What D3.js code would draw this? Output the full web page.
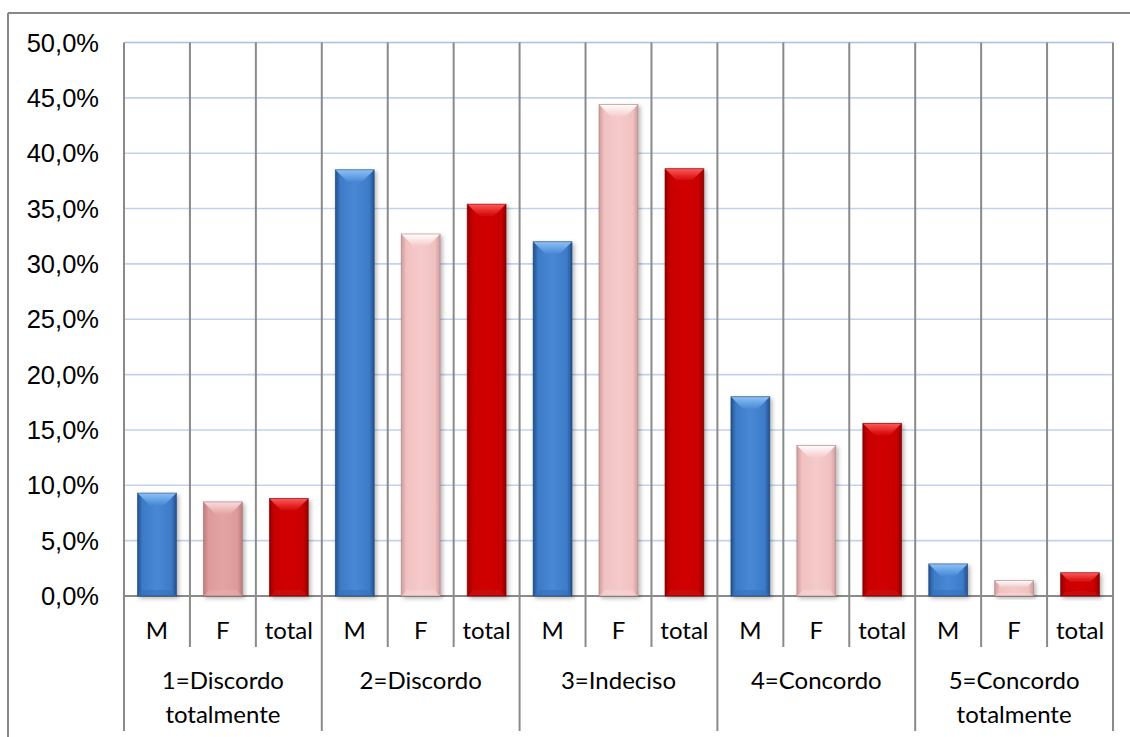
<!DOCTYPE html>
<html>
<head>
<meta charset="utf-8">
<script src="https://cdn.jsdelivr.net/npm/d3@7"></script>
<style>
  html, body { margin: 0; padding: 0; background: #fff; }
  svg { display: block; }
</style>
</head>
<body>
<svg id="chart" width="1130" height="737"></svg>
<script>
// Response categories (each label split over its display lines)
const groupLabels = [
  ["1=Discordo", "totalmente"],
  ["2=Discordo"],
  ["3=Indeciso"],
  ["4=Concordo"],
  ["5=Concordo", "totalmente"]
];
const seriesNames = ["M", "F", "total"];

// Percentages per category
const valuesM     = [9.3, 38.5, 32.0, 18.0, 2.9];
const valuesF     = [8.5, 32.7, 44.4, 13.6, 1.4];
const valuesTotal = [8.8, 35.4, 38.6, 15.6, 2.1];

// Y-axis ticks (percent)
const yTicks = [0, 5, 10, 15, 20, 25, 30, 35, 40, 45, 50];

const seriesValues = [valuesM, valuesF, valuesTotal];

// Fill palettes: base, edge (dark), top bevel (light)
const palettes = {
  M:     { base: "#3d7bc7", mid: "#4888d5", edge: "#23508d", top: "#8cc2f6", bottom: "#3672bb", stroke: "#1d4273" },
  F:     { base: "#f1c1c1", mid: "#f5caca", edge: "#cd9c9c", top: "#ffffff", bottom: "#f6d6d6", stroke: "#a88080" },
  Fdark: { base: "#dd9a9a", mid: "#e3a4a4", edge: "#bd7d7d", top: "#fbdcdc", bottom: "#e4adad", stroke: "#9c6c6c" },
  total: { base: "#c80000", mid: "#d10303", edge: "#900000", top: "#ff5a5a", bottom: "#c50e0e", stroke: "#7a0000" }
};
function paletteKey(series, gi) {
  if (series === "F" && gi === 0) return "Fdark";
  return series;
}

const svg = d3.select("#chart");
const W = 1130, H = 737;
const plot = { left: 124, right: 1113, top: 42.5, bottom: 596 };
const catRow = 647, axisBottom = 731;

// Flatten into one slot per bar
const slots = [];
groupLabels.forEach((g, gi) => {
  seriesNames.forEach((s, si) => {
    slots.push({ key: gi + "-" + s, group: gi, series: s, value: seriesValues[si][gi] });
  });
});

const x = d3.scaleBand().domain(slots.map(d => d.key)).range([plot.left, plot.right]).padding(0);
const y = d3.scaleLinear().domain([0, 50]).range([plot.bottom, plot.top]);

const locale = d3.formatLocale({ decimal: ",", thousands: ".", grouping: [3], currency: ["", ""] });
const fmt = v => locale.format(".1f")(v) + "%";

const defs = svg.append("defs");
Object.entries(palettes).forEach(([k, p]) => {
  const g = defs.append("linearGradient").attr("id", "body-" + k)
    .attr("x1", "0").attr("x2", "1").attr("y1", "0").attr("y2", "0");
  g.append("stop").attr("offset", "0").attr("stop-color", p.edge);
  g.append("stop").attr("offset", "0.13").attr("stop-color", p.base);
  g.append("stop").attr("offset", "0.5").attr("stop-color", p.mid);
  g.append("stop").attr("offset", "0.87").attr("stop-color", p.base);
  g.append("stop").attr("offset", "1").attr("stop-color", p.edge);
  const t = defs.append("linearGradient").attr("id", "top-" + k)
    .attr("x1", "0").attr("x2", "0").attr("y1", "0").attr("y2", "1");
  t.append("stop").attr("offset", "0").attr("stop-color", p.top);
  t.append("stop").attr("offset", "1").attr("stop-color", p.mid);
});
const shadow = defs.append("filter").attr("id", "shadow")
  .attr("x", "-20%").attr("y", "-20%").attr("width", "150%").attr("height", "140%");
shadow.append("feDropShadow").attr("dx", 2).attr("dy", 2).attr("stdDeviation", 2)
  .attr("flood-color", "#000").attr("flood-opacity", 0.3);

// Outer chart border (top and left edges visible)
svg.append("line").attr("x1", 8).attr("x2", W).attr("y1", 13).attr("y2", 13)
  .attr("stroke", "#888").attr("stroke-width", 2);
svg.append("line").attr("x1", 8).attr("x2", 8).attr("y1", 13).attr("y2", H)
  .attr("stroke", "#888").attr("stroke-width", 2);

// Horizontal gridlines
svg.append("g").selectAll("line").data(yTicks.filter(t => t > 0)).join("line")
  .attr("x1", plot.left).attr("x2", plot.right)
  .attr("y1", d => y(d)).attr("y2", d => y(d))
  .attr("stroke", d => d === 50 ? "#a9bde5" : "#c3d1ee")
  .attr("stroke-width", 1.6);

// Vertical separators: slot boundaries and group boundaries
const boundaries = d3.range(slots.length + 1).map(i => ({
  x: i < slots.length ? x(slots[i].key) : plot.right,
  group: i % seriesNames.length === 0
}));
svg.append("g").selectAll("line").data(boundaries).join("line")
  .attr("x1", d => d.x).attr("x2", d => d.x)
  .attr("y1", plot.top).attr("y2", d => d.group ? axisBottom : catRow)
  .attr("stroke", "#8a8a8a").attr("stroke-width", 2);

// Baseline
svg.append("line").attr("x1", plot.left).attr("x2", plot.right)
  .attr("y1", y(0)).attr("y2", y(0))
  .attr("stroke", "#8a8a8a").attr("stroke-width", 2);

// Y-axis labels
svg.append("g").selectAll("text").data(yTicks).join("text")
  .attr("x", 99).attr("y", d => y(d) + 9)
  .attr("text-anchor", "end")
  .attr("font-family", "'Liberation Sans', Arial, sans-serif")
  .attr("font-size", 25.5).attr("fill", "#000")
  .text(d => fmt(d));

// Bars with bevelled tops
const barFrac = 0.59;
const bw = x.bandwidth() * barFrac;
const bars = svg.append("g").selectAll("g").data(slots).join("g")
  .attr("filter", "url(#shadow)");
bars.each(function(d) {
  const g = d3.select(this);
  const k = paletteKey(d.series, d.group);
  const p = palettes[k];
  const x0 = x(d.key) + (x.bandwidth() - bw) / 2;
  const x1 = x0 + bw;
  const y0 = y(d.value), y1 = y(0);
  const h = y1 - y0;
  const b = Math.min(12, h * 0.42);
  const bb = Math.min(6, h * 0.2);
  g.append("rect").attr("x", x0).attr("y", y0).attr("width", bw).attr("height", h)
    .attr("fill", `url(#body-${k})`);
  // top bevel
  g.append("path")
    .attr("d", `M${x0},${y0}L${x1},${y0}L${x1 - b},${y0 + b}L${x0 + b},${y0 + b}Z`)
    .attr("fill", `url(#top-${k})`);
  // bottom bevel
  g.append("path")
    .attr("d", `M${x0},${y1}L${x1},${y1}L${x1 - bb},${y1 - bb}L${x0 + bb},${y1 - bb}Z`)
    .attr("fill", p.bottom).attr("opacity", 0.6);
  g.append("rect").attr("x", x0).attr("y", y0).attr("width", bw).attr("height", h)
    .attr("fill", "none").attr("stroke", p.stroke).attr("stroke-width", 0.8).attr("stroke-opacity", 0.7);
});

// Series labels under each bar
const labelFont = "Lato, 'Open Sans', sans-serif";
svg.append("g").selectAll("text").data(slots).join("text")
  .attr("x", d => x(d.key) + x.bandwidth() / 2).attr("y", 639)
  .attr("text-anchor", "middle")
  .attr("font-family", labelFont).attr("font-size", 24).attr("fill", "#000")
  .text(d => d.series);

// Category labels
const groupG = svg.append("g").selectAll("text").data(groupLabels).join("text")
  .attr("text-anchor", "middle")
  .attr("font-family", labelFont).attr("font-size", 24).attr("fill", "#000")
  .attr("x", (d, gi) => {
    const a = x(slots[gi * 3].key), bEnd = x(slots[gi * 3 + 2].key) + x.bandwidth();
    return (a + bEnd) / 2;
  });
groupG.selectAll("tspan").data(d => d).join("tspan")
  .attr("x", function() { return d3.select(this.parentNode).attr("x"); })
  .attr("y", (d, i) => 689 + i * 34)
  .text(d => d);
</script>
</body>
</html>
